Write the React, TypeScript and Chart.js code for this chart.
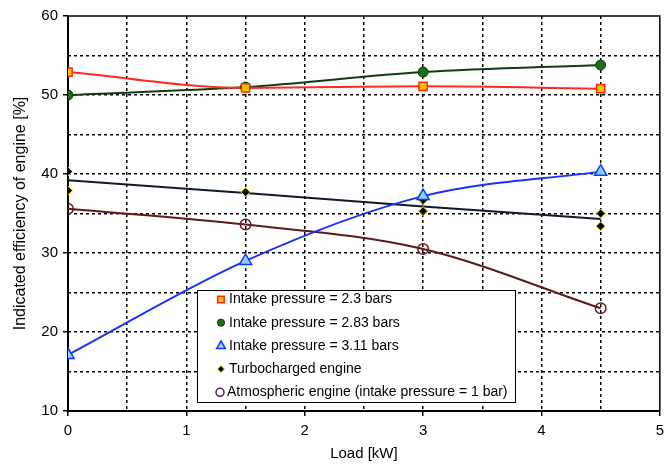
import React, { useEffect, useRef } from 'react';
import { Chart, registerables } from 'chart.js';

Chart.register(...registerables);

// ---- data ----
const loadKW = [0, 1.5, 3, 4.5];
const intake230 = [52.9, 50.9, 51.1, 50.8];
const intake283 = [50.0, 51.0, 52.9, 53.8];
const intake311 = [17.1, 29.0, 37.2, 40.3];
const turboLoad = [0, 0, 1.5, 3, 3, 4.5, 4.5];
const turboEff = [40.3, 37.9, 37.7, 36.7, 35.3, 35.0, 33.4];
const turboTrend = [39.2, 37.6, 35.9, 34.3];
const atmoEff = [35.6, 33.6, 30.5, 23.0];

const legendLabels = [
  'Intake pressure = 2.3 bars',
  'Intake pressure = 2.83 bars',
  'Intake pressure = 3.11 bars',
  'Turbocharged engine',
  'Atmospheric engine (intake pressure = 1 bar)',
];

const xTitle = 'Load [kW]';
const yTitle = 'Indicated efficiency of engine [%]';

const FONT = '"Liberation Sans", Arial, sans-serif';

const pts = (xs: number[], ys: number[]) => xs.map((x, i) => ({ x, y: ys[i] }));

type Marker = { style: string; fill: string; stroke: string; lw: number; r: number };

const legendMarkers: Marker[] = [
  { style: 'rect', fill: '#ffc000', stroke: '#ff2a00', lw: 1.5, r: 3.2 },
  { style: 'circle', fill: '#1f6b1f', stroke: '#0c3a0c', lw: 1, r: 3.6 },
  { style: 'triangle', fill: '#8fd0ff', stroke: '#0a3cff', lw: 1.5, r: 5 },
  { style: 'diamond', fill: '#000000', stroke: '#e8e000', lw: 1, r: 3.5 },
  { style: 'circle', fill: '#ffffff', stroke: '#5a1a4a', lw: 1.5, r: 4 },
];

function drawMarker(ctx: CanvasRenderingContext2D, m: Marker, x: number, y: number) {
  ctx.save();
  ctx.beginPath();
  if (m.style === 'rect') {
    ctx.rect(x - m.r, y - m.r, 2 * m.r, 2 * m.r);
  } else if (m.style === 'circle') {
    ctx.arc(x, y, m.r, 0, Math.PI * 2);
  } else if (m.style === 'triangle') {
    ctx.moveTo(x, y - m.r);
    ctx.lineTo(x + m.r * 0.866, y + m.r * 0.5);
    ctx.lineTo(x - m.r * 0.866, y + m.r * 0.5);
    ctx.closePath();
  } else {
    ctx.moveTo(x, y - m.r);
    ctx.lineTo(x + m.r, y);
    ctx.lineTo(x, y + m.r);
    ctx.lineTo(x - m.r, y);
    ctx.closePath();
  }
  ctx.fillStyle = m.fill;
  ctx.fill();
  ctx.lineWidth = m.lw;
  ctx.strokeStyle = m.stroke;
  ctx.stroke();
  ctx.restore();
}

const framePlugin = {
  id: 'frame',
  beforeDatasetsDraw(chart: any) {
    const { ctx, chartArea: a } = chart;
    ctx.save();
    ctx.strokeStyle = '#000';
    ctx.lineWidth = 1.5;
    ctx.beginPath();
    ctx.moveTo(a.left, a.top);
    ctx.lineTo(a.right, a.top);
    ctx.lineTo(a.right, a.bottom);
    ctx.stroke();
    ctx.lineWidth = 2;
    ctx.beginPath();
    ctx.moveTo(a.left, a.top);
    ctx.lineTo(a.left, a.bottom);
    ctx.lineTo(a.right, a.bottom);
    ctx.stroke();
    ctx.restore();
  },
  afterDraw(chart: any) {
    const { ctx } = chart;
    const bx = 197.5, by = 290.5, bw = 318, bh = 112;
    ctx.save();
    ctx.fillStyle = '#fff';
    ctx.fillRect(bx, by, bw, bh);
    ctx.strokeStyle = '#000';
    ctx.lineWidth = 1;
    ctx.strokeRect(bx, by, bw, bh);
    ctx.font = `14px ${FONT}`;
    ctx.textBaseline = 'middle';
    ctx.textAlign = 'left';
    ctx.fillStyle = '#000';
    legendLabels.forEach((label, i) => {
      const cy = by + 9 + i * 23.2;
      const mx = i === 4 ? 220 : 221;
      drawMarker(ctx, legendMarkers[i], mx, cy);
      ctx.fillStyle = '#000';
      ctx.fillText(label, i === 4 ? 227 : 229, cy);
    });
    ctx.restore();
  },
};

export default function App() {
  const ref = useRef<HTMLCanvasElement | null>(null);

  useEffect(() => {
    document.body.style.margin = '0';
    const canvas = ref.current;
    if (!canvas) return;

    const trend = (label: string, ys: number[], color: string) => ({
      label,
      data: pts(loadKW, ys),
      showLine: true,
      pointRadius: 0,
      borderColor: color,
      borderWidth: 2,
      cubicInterpolationMode: 'monotone' as const,
      order: 2,
    });

    const chart = new Chart(canvas, {
      type: 'scatter',
      data: {
        datasets: [
          {
            label: legendLabels[0],
            data: pts(loadKW, intake230),
            pointStyle: 'rect',
            pointRadius: 5.8,
            backgroundColor: '#ffc000',
            borderColor: '#ff2a00',
            borderWidth: 1.5,
            showLine: false,
            order: 1,
          },
          {
            label: legendLabels[1],
            data: pts(loadKW, intake283),
            pointStyle: 'circle',
            pointRadius: 5,
            backgroundColor: '#1f6b1f',
            borderColor: '#0c3a0c',
            borderWidth: 1,
            showLine: false,
            order: 1,
          },
          {
            label: legendLabels[2],
            data: pts(loadKW, intake311),
            pointStyle: 'triangle',
            pointRadius: 7,
            backgroundColor: '#8fd0ff',
            borderColor: '#0a3cff',
            borderWidth: 1.5,
            showLine: false,
            order: 1,
          },
          {
            label: legendLabels[3],
            data: pts(turboLoad, turboEff),
            pointStyle: 'rectRot',
            pointRadius: 4.5,
            backgroundColor: '#000000',
            borderColor: '#e8e000',
            borderWidth: 1,
            showLine: false,
            order: 1,
          },
          {
            label: legendLabels[4],
            data: pts(loadKW, atmoEff),
            pointStyle: 'circle',
            pointRadius: 5.3,
            backgroundColor: 'rgba(255,255,255,0)',
            borderColor: '#6a1a20',
            borderWidth: 1.5,
            showLine: false,
            order: 1,
          },
          trend('trend230', intake230, '#ff2a1a'),
          trend('trend283', intake283, '#0f3d12'),
          trend('trend311', intake311, '#1a30ff'),
          trend('trendTurbo', turboTrend, '#0d1b2a'),
          trend('trendAtmo', atmoEff, '#5c1a1a'),
        ],
      },
      options: {
        animation: false,
        responsive: false,
        devicePixelRatio: 1,
        events: [],
        layout: { padding: { top: 16, right: 10, bottom: 0, left: 0 } },
        plugins: {
          legend: { display: false },
          tooltip: { enabled: false },
        },
        scales: {
          x: {
            type: 'linear',
            min: 0,
            max: 5,
            ticks: {
              stepSize: 0.5,
              autoSkip: false,
              maxRotation: 0,
              color: '#000',
              padding: 6,
              font: { family: FONT, size: 15 },
              callback: (v: any) => (Number.isInteger(Number(v)) ? String(v) : ''),
            },
            grid: {
              color: (c: any) =>
                c.tick && c.tick.value > 0 && c.tick.value < 5 ? '#000' : 'rgba(0,0,0,0)',
              lineWidth: 1.5,
              tickLength: 5,
              tickWidth: 1.5,
              tickBorderDash: [],
              tickColor: (c: any) =>
                c.tick && Number.isInteger(c.tick.value) ? '#000' : 'rgba(0,0,0,0)',
            },
            border: { display: false, dash: [3, 3] },
            title: {
              display: true,
              text: xTitle,
              color: '#000',
              font: { family: FONT, size: 15 },
              padding: { top: 0, bottom: 4 },
            },
            afterFit: (s: any) => {
              s.height = 56;
            },
          },
          y: {
            type: 'linear',
            min: 10,
            max: 60,
            ticks: {
              stepSize: 5,
              autoSkip: false,
              color: '#000',
              padding: 5,
              font: { family: FONT, size: 15 },
              callback: (v: any) => (Number(v) % 10 === 0 ? String(v) : ''),
            },
            grid: {
              color: (c: any) =>
                c.tick && c.tick.value > 10 && c.tick.value < 60 ? '#000' : 'rgba(0,0,0,0)',
              lineWidth: 1.5,
              tickLength: 5,
              tickWidth: 1.5,
              tickBorderDash: [],
              tickColor: (c: any) =>
                c.tick && c.tick.value % 10 === 0 ? '#000' : 'rgba(0,0,0,0)',
            },
            border: { display: false, dash: [3, 3] },
            title: {
              display: true,
              text: yTitle,
              color: '#000',
              font: { family: FONT, size: 16 },
              padding: { top: 11, bottom: 0 },
            },
            afterFit: (s: any) => {
              s.width = 68;
            },
          },
        },
      },
      plugins: [framePlugin],
    });

    return () => chart.destroy();
  }, []);

  return (
    <div style={{ width: 670, height: 467, background: '#fff' }}>
      <canvas ref={ref} width={670} height={467} style={{ display: 'block' }} />
    </div>
  );
}
